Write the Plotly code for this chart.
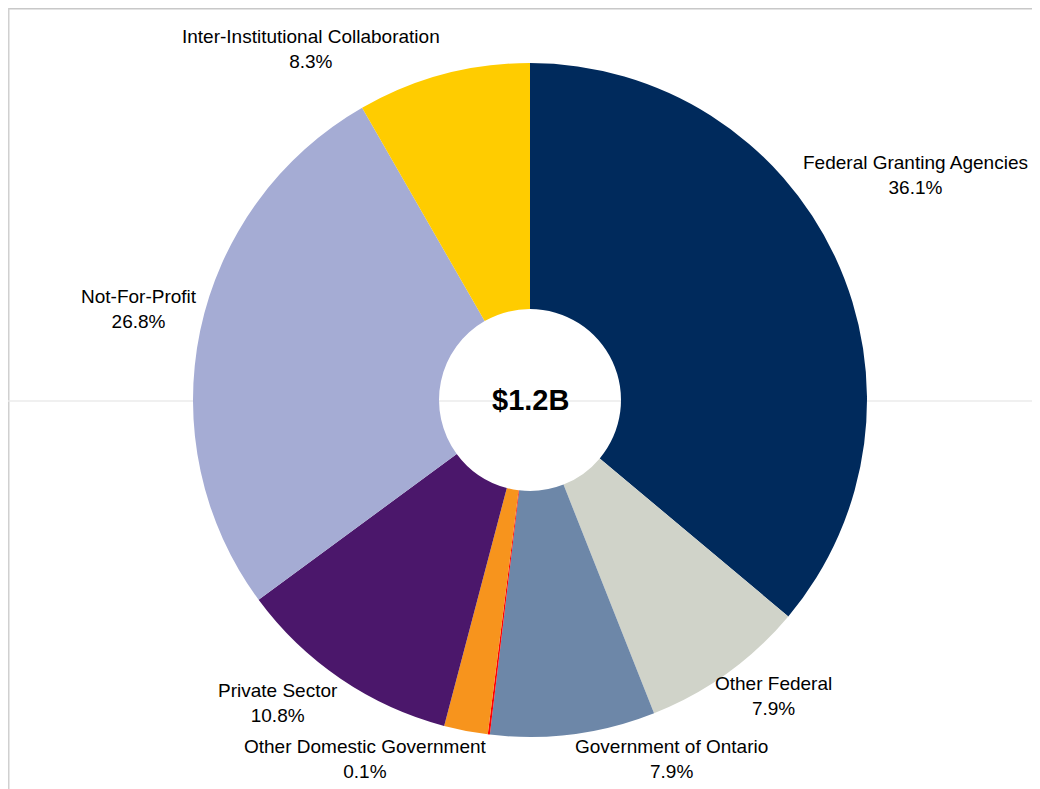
import plotly.graph_objects as go

# Funding sources (clockwise from 12 o'clock)
labels = ["Federal Granting Agencies", "Other Federal", "Government of Ontario",
          "Other Domestic Government", "Other", "Private Sector",
          "Not-For-Profit", "Inter-Institutional Collaboration"]
shares = [36.1, 7.9, 7.9, 0.1, 2.1, 10.8, 26.8, 8.3]
shown = [True, True, True, True, False, True, True, True]
colors = ["#002a5c", "#d0d3c9", "#6d87a8", "#ff0000", "#f7941d",
          "#4b176b", "#a5acd4", "#ffcc00"]
total_label = "$1.2B"

# label anchor points (px in figure, text centre) - "best fit" style placement
label_pos = [(907, 167), (765, 688), (663, 751), (357, 751), None,
             (270, 695), (131, 301), (303, 41)]

W, H = 1032, 781
cx, cy, r = 522, 392, 337   # pie centre / radius in px
FONT = "Liberation Sans, Arial"

fig = go.Figure()
fig.add_trace(go.Pie(
    labels=labels, values=shares, textinfo="none",
    sort=False, direction="clockwise", rotation=0,
    hole=0.27, marker=dict(colors=colors, line=dict(width=0)),
    domain=dict(x=[(cx - r) / W, (cx + r) / W], y=[1 - (cy + r) / H, 1 - (cy - r) / H]),
    automargin=False,
    hoverinfo="label+percent",
    showlegend=False,
))

# slice labels
for lab, val, show, pos in zip(labels, shares, shown, label_pos):
    if not show:
        continue
    fig.add_annotation(text=f"{lab}<br>{val:.1f}%", x=pos[0] / W, y=1 - pos[1] / H,
                       xref="paper", yref="paper", xanchor="center", yanchor="middle",
                       align="center", showarrow=False,
                       font=dict(family=FONT, size=19, color="#000000"))

# page decorations
fig.add_shape(type="line", xref="paper", yref="paper", x0=0, x1=1, y0=1 - 0.5 / H, y1=1 - 0.5 / H,
              line=dict(color="#c8c8c8", width=2), layer="below")
fig.add_shape(type="line", xref="paper", yref="paper", x0=0.5 / W, x1=0.5 / W, y0=0, y1=1,
              line=dict(color="#d0d0d0", width=2), layer="below")
fig.add_shape(type="line", xref="paper", yref="paper", x0=0, x1=1, y0=1 - 393 / H, y1=1 - 393 / H,
              line=dict(color="#ebebeb", width=1.5), layer="below")

fig.add_annotation(text=f"<b>{total_label}</b>", x=cx / W, y=1 - cy / H, xref="paper", yref="paper",
                   showarrow=False, font=dict(family=FONT, size=29, color="#000000"))

fig.update_layout(
    width=W, height=H,
    margin=dict(l=0, r=0, t=0, b=0, autoexpand=False),
    paper_bgcolor="#ffffff", plot_bgcolor="#ffffff",
)

fig.write_html("out.html")
